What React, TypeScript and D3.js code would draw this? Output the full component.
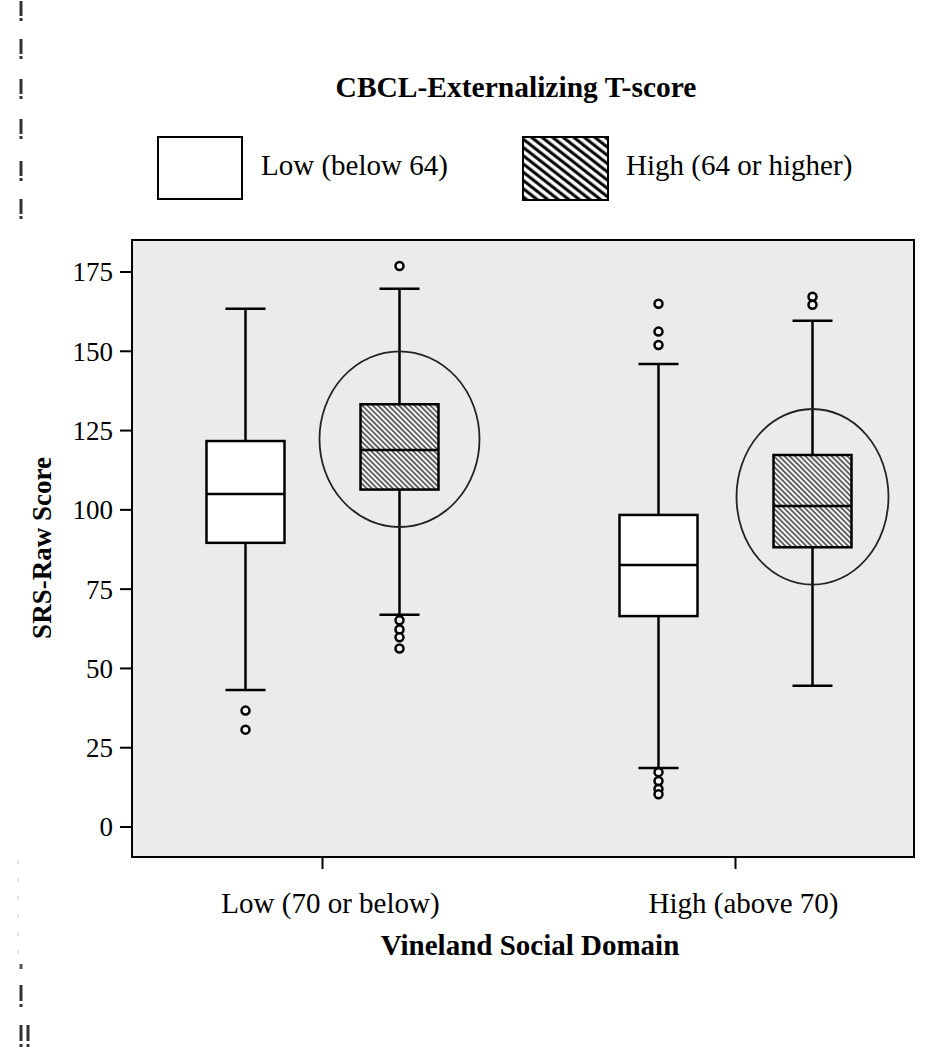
import React from "react";
import * as d3 from "d3";

const categories = ["Low (70 or below)", "High (above 70)"];
const groups = ["Low (below 64)", "High (64 or higher)"];
const yTicks = [0, 25, 50, 75, 100, 125, 150, 175];

// Low CBCL group (white boxes)
const lowMin = [43.2, 18.6];
const lowQ1 = [89.6, 66.5];
const lowMedian = [105.0, 82.6];
const lowQ3 = [121.7, 98.4];
const lowMax = [163.4, 146.0];
const lowOutliers = [
  [36.7, 30.7],
  [165.0, 156.2, 152.0, 17.3, 14.5, 12.0, 10.3],
];

// High CBCL group (hatched boxes)
const highMin = [66.9, 44.5];
const highQ1 = [106.4, 88.2];
const highMedian = [118.9, 101.2];
const highQ3 = [133.3, 117.3];
const highMax = [169.7, 159.6];
const highOutliers = [
  [176.9, 65.2, 62.3, 59.8, 56.3],
  [167.2, 164.7],
];

// highlighted ellipses around hatched boxes (centre value, half-height in score units)
const ellipseCenter = [122.3, 104.1];
const ellipseHalfHeight = [27.7, 27.7];

export default function App() {
  const W = 927;
  const H = 1050;
  const frame = { left: 132, right: 914, top: 240, bottom: 857 };
  const y = d3.scaleLinear().domain([0, 175]).range([827, 272]);
  const x = d3.scalePoint<string>().domain(categories).range([322.5, 735.5]);
  const sub = d3.scalePoint<string>().domain(groups).range([-77, 77]);
  const boxW = 78;
  const capW = 40;
  const font = "'Liberation Serif', 'Times New Roman', serif";
  const ellipseRx = [80, 76];

  const series = [
    { key: groups[0], min: lowMin, q1: lowQ1, med: lowMedian, q3: lowQ3, max: lowMax, out: lowOutliers, fill: "#ffffff" },
    { key: groups[1], min: highMin, q1: highQ1, med: highMedian, q3: highQ3, max: highMax, out: highOutliers, fill: "url(#hatch)" },
  ];

  const marksTop = [11, 49, 89, 129, 171, 209];

  return (
    <svg width={W} height={H} style={{ position: "absolute", left: 0, top: 0, background: "#fff" }} fontFamily={font}>
      <defs>
        <pattern id="hatch" width="4" height="3.7" patternUnits="userSpaceOnUse" patternTransform="rotate(45)">
          <rect width="4" height="3.7" fill="#f6f6f6" />
          <line x1="0" y1="1" x2="4" y2="1" stroke="#222" strokeWidth="1.3" />
        </pattern>
        <pattern id="hatchLegend" width="6" height="6.5" patternUnits="userSpaceOnUse" patternTransform="rotate(38)">
          <rect width="6" height="6.5" fill="#fff" />
          <line x1="0" y1="2" x2="6" y2="2" stroke="#000" strokeWidth="3" />
        </pattern>
      </defs>
      <rect x={0} y={0} width={W} height={H} fill="#fff" />

      {/* scan artefacts on left edge */}
      {marksTop.map((m, i) => (
        <g key={i}>
          <rect x={19.5} y={m - 10} width={3} height={15} fill="#333" />
          <rect x={19.5} y={m + 7} width={3} height={3} fill="#333" />
        </g>
      ))}
      <line x1={18} y1={860} x2={18} y2={955} stroke="#ccc" strokeWidth={1} strokeDasharray="4 14" />
      <rect x={19.5} y={964} width={3} height={5} fill="#555" />
      <rect x={19.5} y={985} width={3} height={16} fill="#333" />
      <rect x={19.5} y={1004} width={3} height={3} fill="#333" />
      <rect x={19.5} y={1025} width={3} height={16} fill="#333" />
      <rect x={19.5} y={1044} width={3} height={3} fill="#333" />
      <rect x={26.5} y={1025} width={3} height={16} fill="#333" />
      <rect x={26.5} y={1044} width={3} height={3} fill="#333" />

      {/* legend */}
      <text x={516} y={97} textAnchor="middle" fontWeight="bold" fontSize={29.5}>CBCL-Externalizing T-score</text>
      <rect x={158} y={137} width={84} height={62} fill="#fff" stroke="#000" strokeWidth={2} />
      <text x={261} y={175} fontSize={29}>{groups[0]}</text>
      <rect x={523} y={137} width={85} height={63} fill="url(#hatchLegend)" stroke="#000" strokeWidth={2} />
      <text x={626} y={175} fontSize={29}>{groups[1]}</text>

      {/* plot frame */}
      <rect x={frame.left} y={frame.top} width={frame.right - frame.left} height={frame.bottom - frame.top} fill="#ebebeb" stroke="#000" strokeWidth={2} />

      {/* y axis ticks */}
      {yTicks.map((t) => (
        <g key={t}>
          <line x1={frame.left - 12} x2={frame.left} y1={y(t)} y2={y(t)} stroke="#000" strokeWidth={2} />
          <text x={frame.left - 19} y={y(t)} dy="0.35em" textAnchor="end" fontSize={27}>{t}</text>
        </g>
      ))}

      {/* x axis ticks */}
      {categories.map((c) => (
        <g key={c}>
          <line x1={x(c)} x2={x(c)} y1={frame.bottom} y2={frame.bottom + 12} stroke="#000" strokeWidth={2} />
          <text x={(x(c) as number) + 8} y={913} textAnchor="middle" fontSize={29}>{c}</text>
        </g>
      ))}

      <text x={530} y={955} textAnchor="middle" fontWeight="bold" fontSize={29}>Vineland Social Domain</text>
      <text transform={`translate(51,548) rotate(-90)`} textAnchor="middle" fontWeight="bold" fontSize={27}>SRS-Raw Score</text>

      {/* boxes */}
      {categories.map((c, ci) =>
        series.map((s) => {
          const cx = (x(c) as number) + (sub(s.key) as number);
          return (
            <g key={c + s.key}>
              <line x1={cx} x2={cx} y1={y(s.max[ci])} y2={y(s.q3[ci])} stroke="#000" strokeWidth={2.5} />
              <line x1={cx} x2={cx} y1={y(s.q1[ci])} y2={y(s.min[ci])} stroke="#000" strokeWidth={2.5} />
              <line x1={cx - capW / 2} x2={cx + capW / 2} y1={y(s.max[ci])} y2={y(s.max[ci])} stroke="#000" strokeWidth={2.5} />
              <line x1={cx - capW / 2} x2={cx + capW / 2} y1={y(s.min[ci])} y2={y(s.min[ci])} stroke="#000" strokeWidth={2.5} />
              <rect x={cx - boxW / 2} y={y(s.q3[ci])} width={boxW} height={y(s.q1[ci]) - y(s.q3[ci])} fill={s.fill} stroke="#000" strokeWidth={2.5} />
              <line x1={cx - boxW / 2} x2={cx + boxW / 2} y1={y(s.med[ci])} y2={y(s.med[ci])} stroke="#000" strokeWidth={2.5} />
              {s.out[ci].map((o, oi) => (
                <circle key={oi} cx={cx} cy={y(o)} r={4} fill="#f4f4f4" stroke="#000" strokeWidth={2.5} />
              ))}
            </g>
          );
        })
      )}

      {/* ellipses around hatched boxes */}
      {categories.map((c, ci) => {
        const cx = (x(c) as number) + (sub(groups[1]) as number);
        const cy = y(ellipseCenter[ci]);
        const ry = y(0) - y(ellipseHalfHeight[ci]);
        return <ellipse key={c} cx={cx} cy={cy} rx={ellipseRx[ci]} ry={ry} fill="none" stroke="#222" strokeWidth={1.8} />;
      })}
    </svg>
  );
}
